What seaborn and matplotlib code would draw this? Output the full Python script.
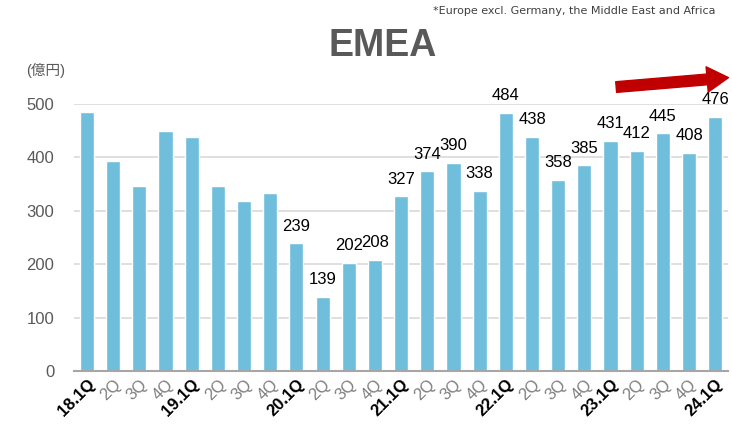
import seaborn as sns
import matplotlib.pyplot as plt
import pandas as pd

# quarterly sales, EMEA (100M yen)
quarters = [
    '18.1Q', '18.2Q', '18.3Q', '18.4Q',
    '19.1Q', '19.2Q', '19.3Q', '19.4Q',
    '20.1Q', '20.2Q', '20.3Q', '20.4Q',
    '21.1Q', '21.2Q', '21.3Q', '21.4Q',
    '22.1Q', '22.2Q', '22.3Q', '22.4Q',
    '23.1Q', '23.2Q', '23.3Q', '23.4Q',
    '24.1Q']
tick_labels = [
    '18.1Q', '2Q', '3Q', '4Q',
    '19.1Q', '2Q', '3Q', '4Q',
    '20.1Q', '2Q', '3Q', '4Q',
    '21.1Q', '2Q', '3Q', '4Q',
    '22.1Q', '2Q', '3Q', '4Q',
    '23.1Q', '2Q', '3Q', '4Q',
    '24.1Q']
sales = [485, 394, 346, 449, 438, 346, 318, 333,
         239, 139, 202, 208, 327, 374, 390, 338,
         484, 438, 358, 385, 431, 412, 445, 408, 476]
# value labels are only shown from 20.1Q on
first_labeled = 8
yticks = [0, 100, 200, 300, 400, 500]

sns.set_style('white')
plt.rcParams['font.family'] = ['Liberation Sans', 'Noto Sans CJK JP', 'DejaVu Sans']

df = pd.DataFrame({'quarter': quarters, 'sales': sales})

fig = plt.figure(figsize=(7.32, 4.30), dpi=100)
ax = fig.add_axes([0.101, 0.137, 0.894, 0.621])
sns.barplot(data=df, x='quarter', y='sales', color='#6FBEDC',
            saturation=1, width=0.54, ax=ax)

ax.set_xlim(-0.5, len(quarters) - 0.5)
ax.set_ylim(0, 500)
ax.set_yticks(yticks)
ax.yaxis.grid(True, color='#D9D9D9', linewidth=1.2)
ax.set_axisbelow(True)
for s in ['top', 'right', 'left']:
    ax.spines[s].set_visible(False)
ax.spines['bottom'].set_color('#A6A6A6')
ax.spines['bottom'].set_linewidth(1.5)
ax.set_xlabel('')
ax.set_ylabel('')
ax.tick_params(axis='y', length=0, labelsize=12, labelcolor='#595959', pad=14)
ax.tick_params(axis='x', length=0, pad=4)

ax.set_xticks(range(len(quarters)))
ax.set_xticklabels(tick_labels, rotation=45, ha='right', rotation_mode='anchor')
for lbl in ax.get_xticklabels():
    if '.' in lbl.get_text():
        lbl.set_fontweight('bold')
        lbl.set_color('black')
        lbl.set_fontsize(12)
    else:
        lbl.set_color('#7F7F7F')
        lbl.set_fontsize(12)

for i in range(first_labeled, len(sales)):
    ax.annotate(str(sales[i]), (i, sales[i]), xytext=(0, 7),
                textcoords='offset points', ha='center', va='bottom',
                fontsize=12, color='black', annotation_clip=False)

fig.text(0.523, 0.893, 'EMEA', ha='center', va='center',
         fontsize=27, fontweight='bold', color='#595959')
fig.text(0.978, 0.975, '*Europe excl. Germany, the Middle East and Africa',
         ha='right', va='center', fontsize=8, color='#404040',
         family='DejaVu Sans')
fig.text(0.062, 0.835, '(億円)', ha='center', va='center',
         fontsize=10.5, color='#595959')

# trend arrow
ax.annotate('', xy=(0.999, 0.82), xytext=(0.838, 0.797),
            xycoords='figure fraction', textcoords='figure fraction',
            arrowprops=dict(arrowstyle='simple,head_length=1.1,head_width=1.3,tail_width=0.55',
                            color='#C00000', mutation_scale=14))

plt.savefig('out.png', dpi=100)
